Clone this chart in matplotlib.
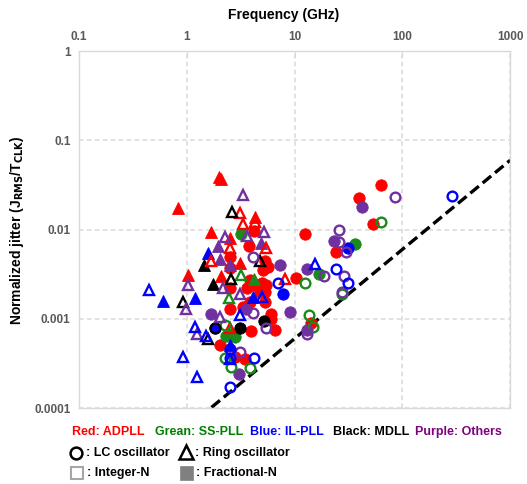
import numpy as np
import matplotlib.pyplot as plt
from matplotlib.lines import Line2D
from matplotlib.patches import Rectangle
from matplotlib.ticker import FixedLocator, FixedFormatter, NullLocator

plt.rcParams['font.family'] = ['Liberation Sans', 'DejaVu Sans']

# (frequency in GHz, normalized jitter) for each group
red_ring_frac = [(0.82, 0.0173), (1.98, 0.0389), (2.06, 0.0369), (4.26, 0.0139), (1.66, 0.0094),
                 (2.50, 0.0080), (3.10, 0.0042), (1.03, 0.0031), (2.06, 0.0030)]
red_ring_int = [(3.14, 0.0152), (3.32, 0.0115), (4.26, 0.0122), (2.50, 0.0063), (1.66, 0.0045),
                (5.39, 0.0063), (8.08, 0.0028), (2.50, 0.00078)]
red_lc_frac = [(4.17, 0.0097), (3.75, 0.0065), (2.50, 0.0049), (5.27, 0.0044), (5.62, 0.0038),
               (2.50, 0.0037), (5.09, 0.0035), (3.83, 0.0027), (5.02, 0.0025), (3.60, 0.0022),
               (2.50, 0.0022), (4.26, 0.0024), (4.74, 0.0020), (5.47, 0.0024), (5.27, 0.0020),
               (3.83, 0.00155), (5.27, 0.00155), (3.32, 0.00136), (2.50, 0.0013), (6.09, 0.00114),
               (6.09, 0.0010), (3.97, 0.00073), (6.53, 0.00074), (2.02, 0.00051), (2.78, 0.00037),
               (3.44, 0.00035), (10.4, 0.0029), (12.6, 0.0089), (14.3, 0.0009), (24.3, 0.0056),
               (40.0, 0.0224), (53.1, 0.0115), (63.5, 0.0316)]

green_lc_frac = [(3.16, 0.0089), (16.8, 0.0032), (36.0, 0.0069), (2.33, 0.00065), (2.59, 0.00068),
                 (2.78, 0.00063)]
green_lc_int = [(2.25, 0.00085), (2.25, 0.00036), (2.59, 0.00029), (3.89, 0.00028), (12.4, 0.0025),
                (13.6, 0.00109), (14.8, 0.00081), (27.6, 0.0019), (63.5, 0.0122)]
green_ring_frac = [(4.17, 0.0028)]
green_ring_int = [(3.2, 0.0031), (2.46, 0.0017)]

blue_ring_frac = [(1.57, 0.0055), (1.19, 0.0017), (4.11, 0.00176), (2.50, 0.00051), (0.60, 0.00157)]
blue_ring_int = [(0.445, 0.0021), (0.92, 0.00037), (1.23, 0.00022), (1.19, 0.00081), (1.50, 0.00065),
                 (3.10, 0.00109), (5.02, 0.00176), (15.6, 0.0041), (2.50, 0.00035)]
blue_lc_frac = [(7.8, 0.0019), (31.2, 0.0062), (1.82, 0.00079)]
blue_lc_int = [(7.0, 0.0025), (2.50, 0.00046), (2.50, 0.00036), (4.17, 0.00036), (2.50, 0.00017),
               (24.0, 0.0036), (31.2, 0.0025), (288, 0.0238)]

black_ring_frac = [(1.44, 0.0040), (1.75, 0.00245)]
black_ring_int = [(2.63, 0.0158), (4.74, 0.0045), (2.59, 0.0028), (0.92, 0.00154), (1.57, 0.0006)]
black_lc_frac = [(5.16, 0.00094), (3.10, 0.00078)]
black_lc_int = [(1.82, 0.00079)]

purple_ring_frac = [(4.92, 0.0071), (1.95, 0.0065), (2.05, 0.0047), (2.50, 0.0040)]
purple_ring_int = [(3.32, 0.0244), (3.60, 0.0085), (5.16, 0.0094), (2.28, 0.0082), (1.03, 0.0024),
                   (2.17, 0.0022), (3.10, 0.0019), (0.98, 0.0013), (2.05, 0.00105), (1.23, 0.00068)]
purple_lc_frac = [(7.26, 0.0040), (1.66, 0.00114), (3.57, 0.0013), (9.12, 0.0012), (3.05, 0.00024),
                  (13.0, 0.0036), (13.0, 0.00074), (23.0, 0.0075), (42.2, 0.0178)]
purple_lc_int = [(4.11, 0.00116), (5.39, 0.00078), (3.10, 0.00042), (4.11, 0.0050), (18.6, 0.0030),
                 (13.0, 0.00068), (26.1, 0.0100), (25.7, 0.0073), (29.7, 0.0056), (29.0, 0.0030),
                 (27.6, 0.0020), (86.1, 0.0230)]

# bound line: jitter = k * f
bound_k = 6.0e-5
bound_f = [1.0, 1000.0]

xticks = [0.1, 1, 10, 100, 1000]
xtick_labels = ['0.1', '1', '10', '100', '1000']
yticks = [0.0001, 0.001, 0.01, 0.1, 1]
ytick_labels = ['0.0001', '0.001', '0.01', '0.1', '1']

RED = '#ff0000'
GREEN = '#1a8a1a'
BLUE = '#0000ff'
BLACK = '#000000'
PURPLE = '#7030a0'
GRID = '#d9d9d9'
TICK = '#595959'

fig = plt.figure(figsize=(5.27, 4.84), dpi=100)
ax = fig.add_axes([0.150, 0.157, 0.818, 0.737])


def plot_group(pts, color, marker, filled):
	f = [p[0] for p in pts]
	j = [p[1] for p in pts]
	if marker == 'o':
		ms = 8.2 if filled else 7.0
	else:
		ms = 8.6 if filled else 7.4
	if filled:
		ax.plot(f, j, ls='none', marker=marker, ms=ms, color=color,
			markeredgewidth=0.6, zorder=3)
	else:
		ax.plot(f, j, ls='none', marker=marker, ms=ms, markerfacecolor='none',
			markeredgecolor=color, markeredgewidth=1.7, zorder=4)


ax.plot(bound_f, [bound_k * f for f in bound_f], color='black', lw=2.4,
	ls=(0, (3.3, 1.5)), zorder=2)

plot_group(red_lc_frac, RED, 'o', True)
plot_group(red_ring_frac, RED, '^', True)
plot_group(red_ring_int, RED, '^', False)
plot_group(green_lc_frac, GREEN, 'o', True)
plot_group(green_ring_frac, GREEN, '^', True)
plot_group(green_lc_int, GREEN, 'o', False)
plot_group(green_ring_int, GREEN, '^', False)
plot_group(black_lc_frac, BLACK, 'o', True)
plot_group(black_ring_frac, BLACK, '^', True)
plot_group(black_lc_int, BLACK, 'o', False)
plot_group(black_ring_int, BLACK, '^', False)
plot_group(purple_lc_frac, PURPLE, 'o', True)
plot_group(purple_ring_frac, PURPLE, '^', True)
plot_group(purple_lc_int, PURPLE, 'o', False)
plot_group(purple_ring_int, PURPLE, '^', False)
plot_group(blue_lc_frac, BLUE, 'o', True)
plot_group(blue_ring_frac, BLUE, '^', True)
plot_group(blue_lc_int, BLUE, 'o', False)
plot_group(blue_ring_int, BLUE, '^', False)

ax.set_xscale('log')
ax.set_yscale('log')
ax.set_xlim(0.1, 1000)
ax.set_ylim(0.0001, 1)
ax.xaxis.set_major_locator(FixedLocator(xticks))
ax.xaxis.set_major_formatter(FixedFormatter(xtick_labels))
ax.yaxis.set_major_locator(FixedLocator(yticks))
ax.yaxis.set_major_formatter(FixedFormatter(ytick_labels))
ax.xaxis.set_minor_locator(NullLocator())
ax.yaxis.set_minor_locator(NullLocator())
ax.xaxis.tick_top()
ax.tick_params(axis='x', which='major', direction='in', length=4, color=GRID,
	labelsize=8.5, labelcolor=TICK, pad=6)
ax.tick_params(axis='y', which='major', length=0, labelsize=8.5, labelcolor=TICK, pad=6)
for lab in ax.get_xticklabels() + ax.get_yticklabels():
	lab.set_fontweight('bold')
ax.grid(True, which='major', color=GRID, ls=(0, (3, 2.2)), lw=1.1)
for sp in ax.spines.values():
	sp.set_color(GRID)
	sp.set_linewidth(1.0)

fig.text(284 / 527, 1 - 15 / 484, 'Frequency (GHz)', ha='center', va='center',
	fontsize=10, fontweight='bold')
fig.text(17 / 527, 1 - 230 / 484, r'Normalized jitter (J$_\mathbf{RMS}$/T$_\mathbf{CLK}$)',
	rotation=90, ha='center', va='center', fontsize=10, fontweight='bold')

# key text below the plot
row1 = [('Red: ADPLL', RED, 72), ('Grean: SS-PLL', '#008000', 155), ('Blue: IL-PLL', BLUE, 250),
	('Black: MDLL', BLACK, 333), ('Purple: Others', '#800080', 415)]
for txt, col, xp in row1:
	fig.text(xp / 527, 1 - 432 / 484, txt, color=col, ha='left', va='center',
		fontsize=9, fontweight='bold')

fig.add_artist(Line2D([76 / 527], [1 - 453 / 484], marker='o', ms=8.5, mfc='none', mec='black',
	mew=1.8, transform=fig.transFigure))
fig.text(86 / 527, 1 - 453 / 484, ': LC oscillator', ha='left', va='center', fontsize=9,
	fontweight='bold')
fig.add_artist(Line2D([186 / 527], [1 - 452 / 484], marker='^', ms=9.5, mfc='none', mec='black',
	mew=1.8, transform=fig.transFigure))
fig.text(195 / 527, 1 - 453 / 484, ': Ring oscillator', ha='left', va='center', fontsize=9,
	fontweight='bold')

fig.add_artist(Rectangle((71 / 527, 1 - 479 / 484), 12 / 527, 12 / 484, facecolor='white',
	edgecolor='#a6a6a6', lw=1.5, transform=fig.transFigure))
fig.text(87 / 527, 1 - 473 / 484, ': Integer-N', ha='left', va='center', fontsize=9,
	fontweight='bold')
fig.add_artist(Rectangle((180 / 527, 1 - 480 / 484), 13 / 527, 14 / 484, facecolor='#808080',
	edgecolor='#808080', lw=0.5, transform=fig.transFigure))
fig.text(196 / 527, 1 - 473 / 484, ': Fractional-N', ha='left', va='center', fontsize=9,
	fontweight='bold')

fig.savefig('out.png', dpi=100)
